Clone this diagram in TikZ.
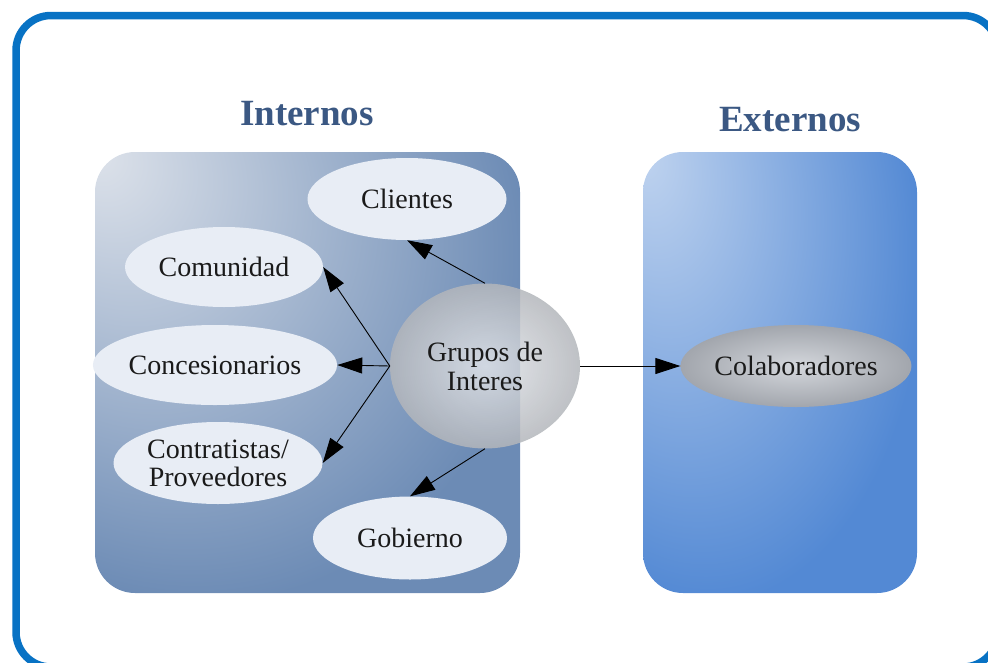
\documentclass[tikz,border=0pt]{standalone}
\usepackage{fontspec}
\setmainfont{Liberation Serif}
\usetikzlibrary{arrows.meta,shapes.geometric}

\definecolor{framecol}{HTML}{0872C4}
\definecolor{headcol}{HTML}{3B5883}
\definecolor{txtcol}{HTML}{1A1A1A}
\definecolor{ellfill}{HTML}{E8EDF5}
\definecolor{intlight}{HTML}{DDE2EA}
\definecolor{intdark}{HTML}{6C8BB5}
\definecolor{extlight}{HTML}{BFD3EF}
\definecolor{extdark}{HTML}{5389D4}
\definecolor{grupin}{HTML}{E2E5EA}
\definecolor{grupout}{HTML}{B3B6BB}
\definecolor{colabin}{HTML}{D4D7DC}
\definecolor{colabout}{HTML}{A2A6AD}
\pgfdeclareradialshading{intshade}{\pgfpoint{-25bp}{25bp}}{color(0bp)=(intlight); color(39bp)=(intdark); color(80bp)=(intdark)}
\pgfdeclareradialshading{extshade}{\pgfpoint{-25bp}{25bp}}{color(0bp)=(extlight); color(39bp)=(extdark); color(80bp)=(extdark)}

\begin{document}
\begin{tikzpicture}[x=1pt,y=-1pt,
	pale/.style={shape=ellipse, fill=ellfill, inner sep=0pt, align=center, text=txtcol, font=\fontsize{28}{28}\selectfont},
	grupo/.style={shape=ellipse, shade, inner color=grupin, outer color=grupout, fill opacity=0.85, text opacity=1, inner sep=0pt, align=center, text=txtcol, font=\fontsize{28}{29}\selectfont},
	colab/.style={shape=ellipse, shade, inner color=colabin, outer color=colabout, inner sep=0pt, text=txtcol, font=\fontsize{28}{28}\selectfont},
	heading/.style={text=headcol, font=\fontsize{37}{37}\selectfont\bfseries},
	link/.style={line width=0.9pt, -{Triangle[length=25pt,width=16pt]}}]
	% Frame and boxes:
	\useasboundingbox (0,0) rectangle (988,662);
	\draw[framecol, line width=7.5pt, rounded corners=35pt] (16,15.5) rectangle (998,667);
	\shade[shading=intshade, rounded corners=40pt] (95,152) rectangle (520,593);
	\shade[shading=extshade, rounded corners=40pt] (643,152) rectangle (917,593);
	\node[heading] (intern) at (307,114){Internos};
	\node[heading] (extern) at (790,120){Externos};
	% Stakeholders:
	\node[pale, minimum width=199pt, minimum height=82pt] (clientes) at (407,199){Clientes};
	\node[pale, minimum width=198pt, minimum height=80pt] (comunidad) at (224,267){Comunidad};
	\node[pale, minimum width=234pt, minimum height=80pt] (concesion) at (215,365){Concesionarios};
	\node[pale, minimum width=209pt, minimum height=82pt] (contrat) at (218,463){Contratistas/\\Proveedores};
	\node[pale, minimum width=194pt, minimum height=83pt] (gobierno) at (410,538){Gobierno};
	\node[grupo, minimum width=190pt, minimum height=165pt] (grupos) at (485,366){Grupos de\\Interes};
	\node[colab, minimum width=228pt, minimum height=82pt] (colaborad) at (796,366){Colaboradores};
	% Arrows:
	\draw[link] (grupos.north) -- (clientes.south);
	\draw[link] (grupos.west) -- (comunidad.east);
	\draw[link] (grupos.west) -- (concesion.east);
	\draw[link] (grupos.west) -- (contrat.east);
	\draw[link] (grupos.south) -- (gobierno.north);
	\draw[link] (grupos.east) -- (colaborad.west);
\end{tikzpicture}
\end{document}
